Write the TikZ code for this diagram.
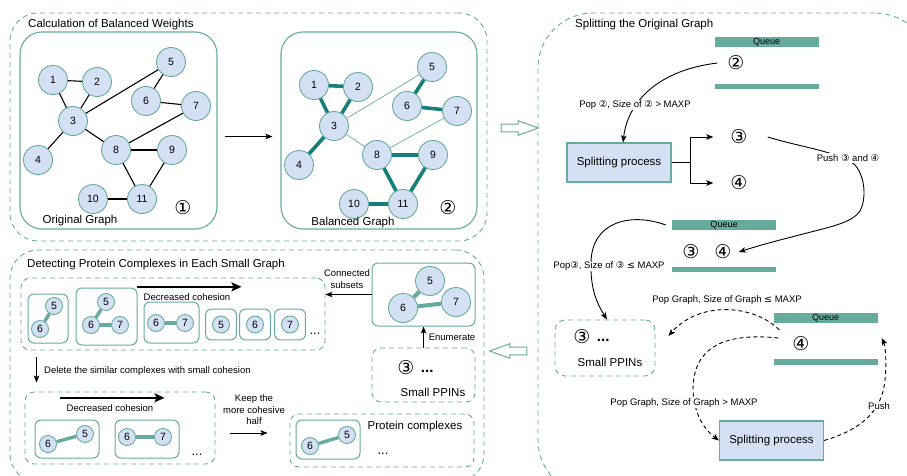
\documentclass[tikz,border=0pt]{standalone}
\usepackage{fontspec}
\setmainfont{Liberation Sans}
\newfontfamily\symfont{DejaVu Sans}
\usepackage{tikz}
\usetikzlibrary{shapes,shapes.arrows,arrows.meta,positioning,fit,backgrounds}
\definecolor{tealline}{HTML}{67AB9F}
\definecolor{darkteal}{HTML}{167F7B}
\definecolor{ppifill}{HTML}{D4E1F5}
\newcommand{\cnum}[1]{{\symfont #1}}
\tikzstyle{panel} = [draw=tealline, line width=0.9pt, dash pattern=on 5pt off 4pt,
rounded corners=28pt, inner sep=0pt]
\tikzstyle{group} = [draw=tealline, line width=0.9pt, dash pattern=on 5pt off 4pt,
rounded corners=9pt, inner sep=0pt]
\tikzstyle{frame} = [draw=tealline, line width=1pt, rounded corners=6pt, inner sep=0pt]
\tikzstyle{graphbox} = [draw=tealline, line width=1.1pt, rounded corners=22pt, inner sep=0pt]
\tikzstyle{protein} = [circle, draw=tealline, fill=ppifill, line width=0.9pt,
minimum size=29pt, inner sep=0pt, font=\fontsize{10.5}{10.5}\selectfont]
\tikzstyle{smallprot} = [protein, minimum size=17pt]
\tikzstyle{process} = [rectangle, draw=tealline, fill=ppifill, line width=1.1pt,
minimum width=104pt, minimum height=39pt, font=\fontsize{11.5}{12}\selectfont]
\tikzstyle{queuebar} = [rectangle, fill=tealline, inner sep=0pt, minimum width=104pt,
font=\fontsize{9}{9}\selectfont]
\tikzstyle{circnum} = [inner sep=0pt, font=\symfont\fontsize{19}{19}\selectfont]
\tikzstyle{note} = [inner sep=1pt, fill=white, font=\fontsize{9.5}{11.5}\selectfont]
\tikzstyle{caption} = [inner sep=1pt, font=\fontsize{11.5}{13}\selectfont]
\tikzstyle{dots} = [inner sep=0pt, font=\bfseries\fontsize{15}{15}\selectfont]
\tikzstyle{line} = [draw, line width=0.9pt, -{Stealth[length=7pt,width=5.5pt,inset=1.5pt]}]
\tikzstyle{dline} = [line, dash pattern=on 4pt off 3pt]
\tikzstyle{trendarrow} = [draw, line width=2.4pt, -{Stealth[length=10pt,width=9pt,inset=2pt]}]
\tikzstyle{edge} = [draw, line width=1.1pt]
\tikzstyle{strong} = [draw=darkteal, line width=3.6pt]
\tikzstyle{weak} = [draw=tealline, line width=0.7pt]
\tikzstyle{link} = [draw=tealline, line width=3.4pt]
\tikzstyle{hollow} = [single arrow, draw=tealline, fill=white, line width=1pt,
minimum height=37pt, inner sep=3.3pt, single arrow head extend=3.5pt,
single arrow tip angle=40]

\begin{document}
\begin{tikzpicture}[x=1pt, y=-1pt, node distance=4pt and 6pt,
	every node/.style={font=\fontsize{9.5}{11.5}\selectfont}]
	\useasboundingbox (0,0) rectangle (907,476);
	
	% Calculation of balanced weights
	\node [panel, fit={(10,13) (487,241)}] (calcpanel) {};
	\node [caption, anchor=west] (calctitle) at (27,25) {Calculation of Balanced Weights};
	\node [graphbox, fit={(20,32) (217,229)}] (origbox) {};
	\node [graphbox, fit={(281,32) (477,229)}] (balbox) {};
	
	\foreach \n/\x/\y in {1/53/80, 2/97/82, 3/73/121, 4/38/160, 5/171/62, 6/146/101,
		7/196/106, 8/116/150, 9/172/150, 10/93/199, 11/142/199}{
		\node [protein] (o\n) at (\x,\y) {\n};
		\node [protein] (b\n) at (\x+261,\y+5) {\n};
	}
	\foreach \a/\b in {1/2,1/3,2/3,3/4,3/5,5/6,6/7,3/8,7/8,8/9,8/11,9/11,10/11}
	\path [edge] (o\a) -- (o\b);
	\foreach \a/\b in {1/2,1/3,2/3,3/4,5/6,6/7,8/9,8/11,9/11,10/11}
	\path [strong] (b\a) -- (b\b);
	\foreach \a/\b in {3/5,3/8,7/8}
	\path [weak] (b\a) -- (b\b);
	
	\node [circnum] (one) at (183,208) {①};
	\node [caption] (origlabel) at (80,221) {Original Graph};
	\node [circnum] (two) at (448,208) {②};
	\node [caption] (ballabel) at (353,223) {Balanced Graph};
	\path [line, shorten <=7pt, shorten >=8pt] ([yshift=-6pt]origbox.east) -- ([yshift=-6pt]balbox.west);
	
	\node [hollow] (tosplit) at (514.5,128) {};
	
	% Splitting the original graph
	\node [panel, rounded corners=55pt, fit={(538,13) (930,495)}] (splitpanel) {};
	\node [caption, anchor=west] (splittitle) at (574,25) {Splitting the Original Graph};
	
	\node [queuebar, minimum height=10pt] (q1top) at (766.5,42) {Queue};
	\node [queuebar, minimum height=5pt] (q1bot) at (766.5,86.5) {};
	\node [circnum] (q1two) at (736,63) {②};
	
	\node [process] (proc1) at (619,162.5) {Splitting process};
	\node [circnum] (s3) at (739,137) {③};
	\node [circnum] (s4) at (739,183) {④};
	
	\path [line] ([xshift=-10pt]q1two.west) .. controls (660,70) and (628,100) .. ([xshift=4pt]proc1.north);
	\node [note] (popone) at (635,105) {Pop \cnum{②}, Size of \cnum{②} > MAXP};
	
	\draw [line width=0.9pt] (proc1.east) -- ++(19,0) coordinate (fork);
	\path [line] (fork) |- ([xshift=-17pt]s3.west);
	\path [line] (fork) |- ([xshift=-17pt]s4.west);
	
	\node [queuebar, minimum height=10pt] (q2top) at (724,225) {Queue};
	\node [queuebar, minimum height=5pt] (q2bot) at (724,269.5) {};
	\node [circnum] (q2three) at (691,252) {③};
	\node [circnum] (q2four) at (723,252) {④};
	
	\path [line] ([xshift=20pt]s3.east) .. controls (800,147) and (840,152) .. (855,165)
	.. controls (866,178) and (866,200) .. (860,211)
	.. controls (854,220) and (840,224) .. (830,227)
	.. controls (800,235) and (770,242) .. ([xshift=7pt]q2four.east);
	\node [note] (pushtwo) at (848,158) {Push \cnum{③} and \cnum{④}};
	
	\node [group, rounded corners=10pt, fit={(555,320) (655,376)}] (sppin) {};
	\node [circnum] (sp3) at (582,337) {③};
	\node [dots, right=6pt of sp3, yshift=-3pt] (spdots) {...};
	\node [caption] (sptext) at (610,362) {Small PPINs};
	
	\path [line] ([xshift=-6pt]q2top.west) .. controls (630,212) and (592,222) .. (591,262)
	.. controls (590,290) and (598,305) .. ([xshift=2pt]sppin.north);
	\node [note] (popthree) at (609,266) {Pop\cnum{③}, Size of \cnum{③} \cnum{≤} MAXP};
	
	\node [queuebar, minimum height=10pt] (q3top) at (825.5,318) {Queue};
	\node [queuebar, minimum height=6pt] (q3bot) at (825.5,362) {};
	\node [circnum] (q3four) at (801,344) {④};
	
	\node [process] (proc2) at (771.5,440.5) {Splitting process};
	
	\path [dline] ([xshift=-13pt,yshift=14pt]q3four.west) .. controls (755,305) and (700,300) .. ([xshift=13pt,yshift=12pt]sppin.east);
	\node [note, fill=none] (popsmall) at (727,300) {Pop Graph, Size of Graph \cnum{≤} MAXP};
	\path [dline] ([xshift=-14pt,yshift=6pt]q3four.west) .. controls (720,332) and (693,350) .. (693,390)
	.. controls (694,415) and (705,430) .. (proc2.west);
	\node [note] (popbig) at (684,403) {Pop Graph, Size of Graph > MAXP};
	\path [dline] (proc2.east) .. controls (860,430) and (882,412) .. (885,380)
	.. controls (887,360) and (885,345) .. ([xshift=4pt,yshift=-20pt]q3top.east);
	\node [note] (pushgraph) at (879,406) {Push};
	
	\node [hollow, shape border rotate=180] (todetect) at (513.5,351) {};
	
	% Detecting protein complexes
	\node [panel, fit={(10,250) (484,482)}] (detectpanel) {};
	\node [caption, anchor=west] (detecttitle) at (26,265) {Detecting Protein Complexes in Each Small Graph};
	
	\node [group, fit={(21,278) (325,350)}] (subsets) {};
	\node [inner sep=1pt] (dcone) at (187,297) {Decreased cohesion};
	\path [trendarrow] ([xshift=-5pt,yshift=5.5pt]dcone.north west) -- ([xshift=10pt,yshift=5.5pt]dcone.north east);
	
	\node [frame, fit={(28,294) (68,343)}] (sub1) {};
	\node [smallprot] (a5) at (54,306) {5};
	\node [smallprot] (a6) at (40,329) {6};
	\path [link] (a5) -- (a6);
	
	\node [frame, fit={(76,288) (137,345)}] (sub2) {};
	\node [smallprot] (c5) at (106,302) {5};
	\node [smallprot] (c6) at (91,325) {6};
	\node [smallprot] (c7) at (120,325) {7};
	\path [link] (c5) -- (c6);
	\path [link] (c6) -- (c7);
	
	\node [frame, fit={(144,302) (199,343)}] (sub3) {};
	\node [smallprot] (d6) at (156,323) {6};
	\node [smallprot] (d7) at (185,323) {7};
	\path [link] (d6) -- (d7);
	
	\foreach \n/\x in {5/221, 6/255, 7/290}{
		\node [smallprot] (e\n) at (\x,324.5) {\n};
		\node [frame, fit=(e\n), inner sep=6.5pt] (single\n) {};
	}
	\node [font=\fontsize{13}{13}\selectfont, inner sep=0pt] (subdots) at (315,334) {...};
	
	\node [frame, fit={(372,263) (475,326)}] (enum) {};
	\node [protein] (f5) at (430,281) {5};
	\node [protein] (f6) at (403,308) {6};
	\node [protein] (f7) at (456,302) {7};
	\path [link, line width=4pt] (f5) -- (f6);
	\path [link, line width=4pt] (f6) -- (f7);
	
	\path [line] (enum.west) -- (subsets.east |- enum.west);
	\node [inner sep=1pt, align=center] (conn) at (347,279) {Connected\\subsets};
	
	\node [group, fit={(372,348) (475,402)}] (sppinl) {};
	\node [circnum] (sl3) at (406,368) {③};
	\node [dots, right=6pt of sl3, yshift=-3pt] (sldots) {...};
	\node [caption] (sltext) at (433,392) {Small PPINs};
	\path [line] (sppinl) -- (enum);
	\node [inner sep=1pt] (enumlabel) at (452,337) {Enumerate};
	
	\node [group, fit={(25,392) (215,464)}] (cohesive) {};
	\path [line, shorten <=7pt, shorten >=9pt] ([xshift=16pt]subsets.south west) -- ([xshift=12pt]cohesive.north west);
	\node [inner sep=1pt, anchor=west] (delete) at (43,371) {Delete the similar complexes with small cohesion};
	
	\node [inner sep=1pt] (dctwo) at (110,408) {Decreased cohesion};
	\path [trendarrow] ([xshift=-5pt,yshift=5.5pt]dctwo.north west) -- ([xshift=10pt,yshift=5.5pt]dctwo.north east);
	
	\node [frame, fit={(35,420) (99,458)}] (keep1) {};
	\node [smallprot] (g6) at (48,444) {6};
	\node [smallprot] (g5) at (85,434) {5};
	\path [link] (g6) -- (g5);
	\node [frame, fit={(115,420) (179,458)}] (keep2) {};
	\node [smallprot] (h6) at (127,437) {6};
	\node [smallprot] (h7) at (163,437) {7};
	\path [link] (h6) -- (h7);
	\node [font=\fontsize{13}{13}\selectfont, inner sep=0pt] (keepdots) at (197,455) {...};
	
	\node [group, fit={(290,414) (474,467)}] (protc) {};
	\node [frame, fit={(296,420) (360,459)}] (result) {};
	\node [smallprot] (r6) at (310,446) {6};
	\node [smallprot] (r5) at (347,435) {5};
	\path [link] (r6) -- (r5);
	\node [caption] (protlabel) at (415,427) {Protein complexes};
	\node [font=\fontsize{13}{13}\selectfont, inner sep=0pt] (protdots) at (383,454) {...};
	
	\node [inner sep=1pt, align=center] (keephalf) at (254,410) {Keep the\\more cohesive\\half};
	\path [line] ([xshift=15pt,yshift=-5pt]cohesive.east) -- ([xshift=-22pt,yshift=7.5pt]protc.west);
	
\end{tikzpicture}
\end{document}
